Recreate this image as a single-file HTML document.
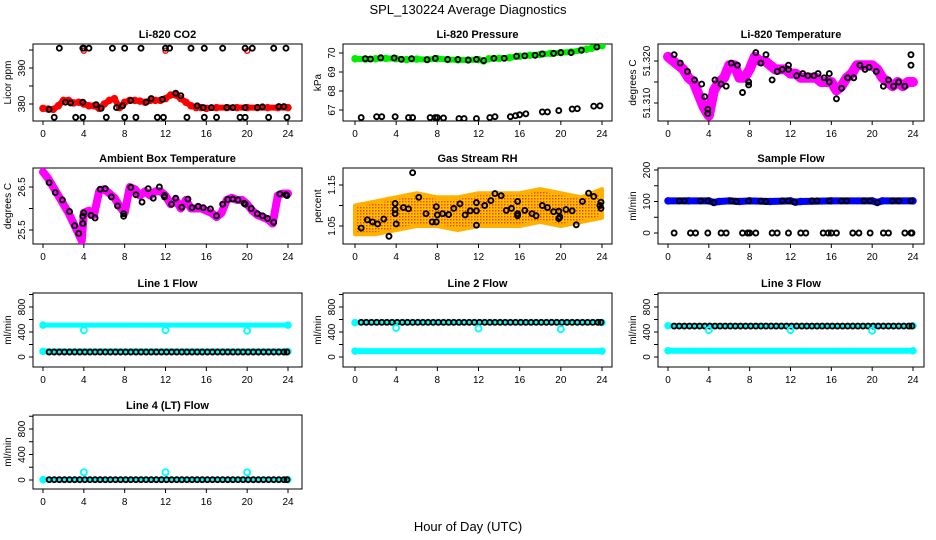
<!DOCTYPE html>
<html><head><meta charset="utf-8"><style>
html,body{margin:0;padding:0;background:#fff;}
svg{display:block;font-family:"Liberation Sans",Arial,sans-serif;}
</style></head><body>
<svg id="c" width="936" height="540" viewBox="0 0 936 540" xmlns="http://www.w3.org/2000/svg">
<defs>
<pattern id="rhdots" width="3" height="3" patternUnits="userSpaceOnUse">
<rect width="3" height="3" fill="#ffc000"/><rect x="0" y="0" width="1.5" height="1.5" fill="#ff4000"/>
</pattern>
</defs>
<text x="468" y="14" text-anchor="middle" font-size="13">SPL_130224  Average Diagnostics</text>
<text x="468" y="531" text-anchor="middle" font-size="13">Hour of Day (UTC)</text>
</svg>
<script>
// ---- data ----
const co2Hours=[0,0.5,1,1.5,2,2.5,3,3.5,4,4.5,5,5.5,6,6.5,7,7.5,8,8.5,9,9.5,10,10.5,11,11.5,12,12.5,13,13.5,14,14.5,15,15.5,16,17,18,19,20,21,22,23,24];
const co2Red=[378.8,378.6,378.5,379.5,381,381,380.3,380.5,380,379.5,379.5,378.8,380,381,381.5,379,380.5,381,381,380.8,380.5,381,381,381,381.5,382.5,382.5,381.5,380.5,379.5,379,379,378.8,379,379,379,379,379,379,379,379];
const co2BlkX=[0.6,2.2,2.7,3.9,5.2,5.7,7.2,7.8,8.6,10.1,10.6,11.7,13,13.5,15.1,15.7,16.5,18,18.6,19.8,21,21.5,23.1,23.6,1.6,3.9,4.0,4.5,6.8,8,9.6,12,12.4,14.5,15.8,17.6,19.8,20.5,22.6,23.8,1.1,3.2,3.9,6.2,8,9.1,11.2,11.8,14.1,15.8,17,19.3,19.8,22.1,23.9];
const co2BlkY=[378.5,380.5,380.3,380.5,379.8,378.8,379,379.5,381,380.5,381.5,381.3,383,382.3,379.5,379,379,379,379,379,379,379.2,379.3,379.3,395.5,395.5,395.5,395.5,395.5,395.5,395.5,395.5,395.5,395.5,395.5,395.5,395.5,395.5,395.5,395.5,376.3,376.3,376.3,376.3,376.3,376.3,376.3,376.3,376.3,376.3,376.3,376.3,376.3,376.3,376.3];
const co2OutX=[4,12,20];
const co2OutY=[394.8,394.8,394.8];

const presHours=[0,1,2,3,4,5,6,7,8,9,10,11,12,12.5,13,14,15,16,17,18,19,20,21,22,22.5,23,23.5,24];
const presGreen=[69.7,69.68,69.7,69.72,69.7,69.65,69.68,69.65,69.7,69.66,69.64,69.63,69.65,69.58,69.7,69.72,69.75,69.83,69.88,69.92,69.98,70.02,70.05,70.15,70.2,70.25,70.33,70.38];
const presBlkX=[1,1.5,2.5,3.8,4.5,5.5,7,7.8,9,10,11,11.8,12.5,13.5,14.5,15.7,16.5,17.5,18.2,19.3,20,21,22,23.5,0.6,2.1,2.6,3.9,5.2,5.6,7.3,7.8,8,8.6,10.1,10.6,11.8,13.1,13.6,15.1,15.6,16,16.6,18.2,18.7,19.8,21.1,21.6,23.2,23.8];
const presBlkY=[69.7,69.68,69.75,69.74,69.67,69.7,69.65,69.72,69.66,69.66,69.63,69.67,69.6,69.72,69.72,69.83,69.85,69.88,69.95,69.98,70.02,70.02,70.15,70.32,66.6,66.65,66.65,66.65,66.6,66.6,66.6,66.6,66.6,66.58,66.55,66.55,66.55,66.6,66.65,66.65,66.7,66.75,66.8,66.9,66.9,66.97,67.05,67.07,67.2,67.22];

const ltHours=[0,0.5,1,1.5,2,2.5,3,3.5,4,4.5,5,5.5,6,6.5,7,7.5,8,8.5,9,9.5,10,10.5,11,11.5,12,12.5,13,13.5,14,14.5,15,15.5,16,16.5,17,17.5,18,18.5,19,19.5,20,20.5,21,21.5,22,22.5,23,23.5,24];
const ltMag=[51.321,51.320,51.319,51.318,51.316,51.315,51.312,51.309,51.307,51.313,51.315,51.316,51.319,51.319,51.316,51.316,51.318,51.321,51.320,51.320,51.319,51.318,51.318,51.318,51.317,51.317,51.316,51.316,51.316,51.316,51.315,51.315,51.315,51.313,51.314,51.316,51.317,51.319,51.319,51.319,51.319,51.318,51.316,51.315,51.314,51.315,51.314,51.315,51.315];
const ltBlkX=[0.6,1.2,1.9,2.6,3.3,3.6,3.9,3.9,4.6,5.2,5.7,6.2,6.8,7.3,7.9,7.9,8.6,9.1,9.6,10.2,10.7,11.2,11.8,11.8,12.6,13.2,13.7,14.3,14.7,15.3,15.8,15.8,16.5,17,17.6,18.2,18.8,19.3,19.7,20.4,21.1,21.6,22.1,22.6,23.2,23.8,23.8];
const ltBlkY=[51.3215,51.3195,51.3175,51.3155,51.3145,51.3115,51.3085,51.3075,51.3155,51.3145,51.314,51.3195,51.319,51.3125,51.315,51.3143,51.322,51.3195,51.3215,51.3155,51.3175,51.318,51.319,51.318,51.3165,51.317,51.3165,51.3165,51.317,51.316,51.317,51.315,51.311,51.3135,51.316,51.316,51.319,51.318,51.3185,51.3175,51.314,51.3155,51.314,51.315,51.314,51.3215,51.319];

const abHours=[0,0.5,1,1.5,2,2.5,3,3.5,3.8,4,4.5,5,5.5,6,6.5,7,7.5,8,8.5,9,9.5,10,10.5,11,11.5,12,12.5,13,13.5,14,14.5,15,15.5,16,16.5,17,17.5,18,18.5,19,19.5,20,20.5,21,21.5,22,22.5,23,23.5,24];
const abMag=[26.85,26.7,26.5,26.3,26.1,25.9,25.65,25.4,25.25,25.9,25.95,25.85,26.4,26.45,26.35,26.25,26.05,25.9,26.5,26.45,26.3,26.4,26.3,26.4,26.4,26.3,26.1,26.2,26.0,26.2,26.0,26.0,26.0,25.95,25.9,25.8,25.9,26.2,26.25,26.2,26.2,26.1,25.95,25.85,25.8,25.75,25.65,26.3,26.35,26.35];
const abBlkX=[0.6,1.2,1.9,2.6,3.1,3.5,3.9,3.9,4,4.7,5.1,5.6,6.1,6.7,7.3,7.9,7.9,8.6,9.1,9.7,10.3,10.8,11.4,11.9,11.9,12.6,13,13.6,14.2,14.6,15.2,15.7,16.4,17,17.6,18.1,18.6,19.1,19.7,19.8,20.4,21,21.5,22,22.6,23.2,23.8,23.9];
const abBlkY=[26.6,26.37,26.2,25.93,25.6,25.42,25.65,25.82,25.9,25.84,25.78,26.45,26.46,26.27,26.06,25.88,25.82,26.49,26.32,26.15,26.46,26.24,26.5,26.3,26.27,26.1,26.24,26.03,26.22,26.02,26.05,26.02,25.99,25.83,26.1,26.21,26.22,26.2,26.12,26.1,26.0,25.88,25.83,25.77,25.68,26.34,26.32,26.3];

const rhHours=[0,2,4,6,8,10,12,14,16,18,20,22,24];
const rhUpper=[1.10,1.11,1.12,1.13,1.12,1.12,1.13,1.13,1.13,1.14,1.13,1.12,1.14];
const rhLower=[1.03,1.03,1.04,1.05,1.05,1.04,1.05,1.05,1.05,1.06,1.05,1.06,1.07];
const rhBlkX=[0.6,1.2,1.7,2.2,2.8,3.3,3.9,3.9,3.9,4,4.7,5.2,5.6,6.2,6.9,7.5,7.9,7.9,8,8.5,9.1,9.6,10.2,10.7,11.2,11.8,11.8,11.8,12.6,13.2,13.6,14.2,14.7,15.2,15.8,15.8,15.8,16.5,17.2,17.6,18.2,18.7,19.3,19.8,19.8,19.9,20.5,21.1,21.5,22.1,22.7,23.2,23.8,23.9,23.9];
const rhBlkY=[1.045,1.065,1.06,1.055,1.067,1.025,1.09,1.08,1.105,1.055,1.095,1.092,1.18,1.12,1.08,1.06,1.06,1.097,1.077,1.08,1.078,1.093,1.104,1.077,1.087,1.107,1.052,1.087,1.1,1.112,1.129,1.124,1.088,1.093,1.11,1.08,1.075,1.088,1.08,1.075,1.1,1.095,1.085,1.068,1.086,1.072,1.09,1.087,1.053,1.11,1.13,1.122,1.1,1.093,1.108];

const sfHours=[0,2,4,4.5,5,6,7,8,10,12,12.5,13,16,20,20.5,21,24];
const sfBlue=[102,102,102,97,100,102,100,102,100,102,98,100,102,102,97,102,102];
const sfBlkX=[1.1,1.6,3.2,3.9,4.5,6.2,6.7,7.9,9.1,9.6,11.2,11.8,12.4,14.1,14.6,15.8,17,17.5,19.2,19.8,20.5,22,22.6,23.8,0.6,2.2,2.7,3.9,5.2,5.7,7.3,7.8,8,8.6,10.2,10.7,11.8,13,13.5,15.2,15.7,16,16.5,18.1,18.7,19.8,21.1,21.6,23.2,23.8,23.9];
const sfBlkY=[102,102,102,102,97,102,100,102,101,100,102,102,98,102,102,102,102,102,102,102,97,102,102,102,0,0,0,0,0,0,0,0,0,0,0,0,0,0,0,0,0,0,0,0,0,0,0,0,0,0,0];

const flowBlkHours=[0.6,1.1,1.6,2.1,2.6,3.1,3.6,4.1,4.6,5.1,5.6,6.1,6.6,7.1,7.6,8.1,8.6,9.1,9.6,10.1,10.6,11.1,11.6,12.1,12.6,13.1,13.6,14.1,14.6,15.1,15.6,16.1,16.6,17.1,17.6,18.1,18.6,19.1,19.6,20.1,20.6,21.1,21.6,22.1,22.6,23.1,23.6,23.9];
const dipHours=[4,12,20];
const l1Cyan=[510,510];  const l1CyanLow=[90,90]; const l1Blk=80;  const l1Dips=[430,430,420];
const l2Cyan=[550,550];  const l2CyanLow=[95,95]; const l2Blk=555; const l2Dips=[465,455,445];
const l3Cyan=[500,500];  const l3CyanLow=[100,100]; const l3Blk=495; const l3Dips=[430,430,420];
const l4Cyan=[5,5];      const l4Blk=5; const l4Dips=[120,120,120];
const bandSpan=[0,24];

// ---- drawing ----
const NS="http://www.w3.org/2000/svg";
const svg=document.getElementById('c');
function mk(tag,attrs,parent){const e=document.createElementNS(NS,tag);for(const k in attrs)e.setAttribute(k,attrs[k]);(parent||svg).appendChild(e);return e;}
const cols=[{l:33,r:302,x0:43,x24:288},{l:343,r:612,x0:355,x24:602},{l:658,r:924,x0:668,x24:913}];
const rows=[{t:44,b:121},{t:168,b:244},{t:293,b:367},{t:415,b:489}];

function panel(name,title,ylab,ci,ri,vA,pA,vB,pB,ticks,labels){
  const c=cols[ci],r=rows[ri];
  const g=mk('g',{});
  
  
  const sx=h=>c.x0+(c.x24-c.x0)*h/24;
  const sy=v=>pA+(pB-pA)*(v-vA)/(vB-vA);
  const box=mk('rect',{x:c.l,y:r.t,width:c.r-c.l,height:r.b-r.t,fill:'none',stroke:'#000','stroke-width':1},g);
  
  
  const tt=mk('text',{x:(c.l+c.r)/2,y:r.t-6,'text-anchor':'middle','font-size':11,'font-weight':'bold'},g);
  tt.textContent=title;
  
  
  const xa=mk('g',{},g);
  
  
  mk('line',{x1:sx(0),x2:sx(24),y1:r.b,y2:r.b,stroke:'#000'},xa);
  [0,4,8,12,16,20,24].forEach(h=>{
    mk('line',{x1:sx(h),x2:sx(h),y1:r.b,y2:r.b+4,stroke:'#000'},xa);
    const t=mk('text',{x:sx(h),y:r.b+16,'text-anchor':'middle','font-size':10},xa);t.textContent=h;
  });
  const ya=mk('g',{},g);
  
  
  const ys=ticks.map(sy);
  mk('line',{x1:c.l,x2:c.l,y1:Math.min(...ys),y2:Math.max(...ys),stroke:'#000'},ya);
  ticks.forEach((v,i)=>{
    mk('line',{x1:c.l-4,x2:c.l,y1:sy(v),y2:sy(v),stroke:'#000'},ya);
    if(labels[i]!==''){const t=mk('text',{x:c.l-8,y:sy(v),'text-anchor':'middle','font-size':10,transform:`rotate(-90 ${c.l-8} ${sy(v)})`},ya);t.textContent=labels[i];}
  });
  const yl=mk('text',{x:c.l-22,y:(r.t+r.b)/2,'text-anchor':'middle','font-size':10,transform:`rotate(-90 ${c.l-22} ${(r.t+r.b)/2})`},g);
  yl.textContent=ylab;
  
  
  const clip='clip'+ci+ri;
  const cp=mk('clipPath',{id:clip},g);mk('rect',{x:c.l,y:r.t,width:c.r-c.l,height:r.b-r.t},cp);
  const data=mk('g',{'clip-path':`url(#${clip})`},g);
  return {sx,sy,g:data};
}
function band(P,hs,vs,color,w,name){
  const pl=mk('polyline',{points:hs.map((h,i)=>P.sx(h)+','+P.sy(vs[i])).join(' '),fill:'none',stroke:color,'stroke-width':w,'stroke-linejoin':'round','stroke-linecap':'round'},P.g);
  
  
  hs.forEach((h,i)=>{mk('circle',{cx:P.sx(h),cy:P.sy(vs[i]),r:3,fill:'none',stroke:color,'stroke-width':1.5},P.g);});
}
function pts(P,xs,ys,color,name,r,sw){
  const gg=mk('g',{},P.g);
  
  
  xs.forEach((h,i)=>{mk('circle',{cx:P.sx(h),cy:P.sy(ys[i]),r:r||2.5,fill:'none',stroke:color,'stroke-width':sw||1.9},gg);});
}

// CO2
let P=panel('co2-panel','Li-820 CO2','Licor ppm',0,0,380,104,390,68,[380,385,390,395],['380','','390','']);
band(P,co2Hours,co2Red,'#ff0000',6,'co2-red-series');
pts(P,co2OutX,co2OutY,'#ff0000','co2-red-outliers',2.5,1.4);
pts(P,co2BlkX,co2BlkY,'#000','co2-black-points');
// Pressure
P=panel('pressure-panel','Li-820 Pressure','kPa',1,0,67,110,70,53,[67,68,69,70],['67','68','69','70']);
band(P,presHours,presGreen,'#00ee00',6,'pressure-green-series');
pts(P,presBlkX,presBlkY,'#000','pressure-black-points');
// Li temp
P=panel('licor-temp-panel','Li-820 Temperature','degrees C',2,0,51.310,103,51.320,61,[51.310,51.315,51.320],['51.310','','51.320']);
band(P,ltHours,ltMag,'#ff00ff',10,'licor-temp-magenta-series');
pts(P,ltBlkX,ltBlkY,'#000','licor-temp-black-points');
// Ambient
P=panel('ambient-temp-panel','Ambient Box Temperature','degrees C',0,1,25.5,230,26.5,187,[25.5,26.0,26.5],['25.5','','26.5']);
band(P,abHours,abMag,'#ff00ff',8,'ambient-magenta-series');
pts(P,abBlkX,abBlkY,'#000','ambient-black-points');
// RH
P=panel('rh-panel','Gas Stream RH','percent',1,1,1.05,226,1.15,185,[1.05,1.10,1.15],['1.05','','1.15']);
{const up=rhHours.map((h,i)=>P.sx(h)+','+P.sy(rhUpper[i]));const lo=rhHours.map((h,i)=>P.sx(h)+','+P.sy(rhLower[i])).reverse();
 const pg=mk('polygon',{points:up.concat(lo).join(' '),fill:'url(#rhdots)',stroke:'#ffb000','stroke-width':4,'stroke-linejoin':'round'},P.g);
 
 }
pts(P,rhBlkX,rhBlkY,'#000','rh-black-points');
// Sample flow
P=panel('sample-flow-panel','Sample Flow','ml/min',2,1,0,233,200,170,[0,50,100,150,200],['0','','100','','200']);
band(P,sfHours,sfBlue,'#0000ff',7,'sample-flow-blue-series');
pts(P,sfBlkX,sfBlkY,'#000','sample-flow-black-points');
// Line flows
const fTicks=[0,200,400,600,800,1000],fLabs=['0','','400','','800',''];
function flowPanel(name,title,ci,ri,z,e,cyan,cyanLow,blk,dips){
  const Q=panel(name,title,'ml/min',ci,ri,0,z,800,e,fTicks,fLabs);
  band(Q,bandSpan,cyan,'#00ffff',5,'cyan-upper-series');
  if(cyanLow)band(Q,bandSpan,cyanLow,'#00ffff',6,'cyan-lower-series');
  pts(Q,flowBlkHours,flowBlkHours.map(()=>blk),'#000','black-points');
  pts(Q,dipHours,dips,'#00ffff','cyan-dips',3);
}
flowPanel('line1-flow-panel','Line 1 Flow',0,2,357,307,l1Cyan,l1CyanLow,l1Blk,l1Dips);
flowPanel('line2-flow-panel','Line 2 Flow',1,2,357,307,l2Cyan,l2CyanLow,l2Blk,l2Dips);
flowPanel('line3-flow-panel','Line 3 Flow',2,2,357,307,l3Cyan,l3CyanLow,l3Blk,l3Dips);
flowPanel('line4-flow-panel','Line 4 (LT) Flow',0,3,480,429,l4Cyan,null,l4Blk,l4Dips);
</script>
</body></html>
